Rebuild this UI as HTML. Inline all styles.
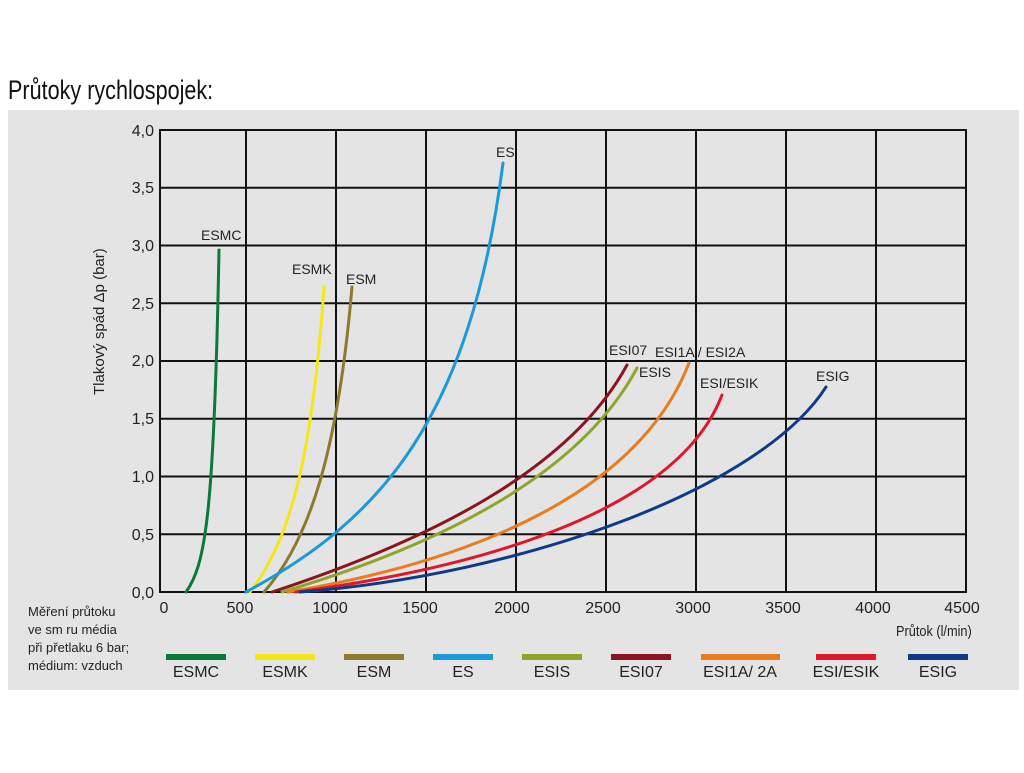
<!DOCTYPE html>
<html><head><meta charset="utf-8"><style>
body{margin:0;background:#fff;}
svg text{font-family:"Liberation Sans",sans-serif;}
</style></head><body>
<svg width="1024" height="768" viewBox="0 0 1024 768" xmlns="http://www.w3.org/2000/svg">
<rect width="1024" height="768" fill="#fff"/>
<text x="0" y="0" font-size="27" fill="#111" transform="translate(8,99) scale(0.8,1)">Průtoky rychlospojek:</text>
<rect x="8" y="110" width="1011" height="580" fill="#e4e4e4"/>
<g stroke="#111" stroke-width="2" fill="none">
<rect x="160" y="130" width="806" height="462"/>
<path d="M246,130V592M336,130V592M426,130V592M516,130V592M606,130V592M696,130V592M786,130V592M876,130V592"/>
<path d="M160,187.75H966M160,245.5H966M160,303.25H966M160,361H966M160,418.75H966M160,476.5H966M160,534.25H966"/>
</g>
<g font-size="16" fill="#222" text-anchor="end">
<text x="154" y="136">4,0</text><text x="154" y="193">3,5</text><text x="154" y="251">3,0</text>
<text x="154" y="309">2,5</text><text x="154" y="366">2,0</text><text x="154" y="424">1,5</text>
<text x="154" y="482">1,0</text><text x="154" y="540">0,5</text><text x="154" y="598">0,0</text>
</g>
<g font-size="16" fill="#222" text-anchor="middle">
<text x="164" y="613">0</text><text x="240" y="613">500</text><text x="330" y="613">1000</text>
<text x="420" y="613">1500</text><text x="512" y="613">2000</text><text x="603" y="613">2500</text>
<text x="693" y="613">3000</text><text x="783" y="613">3500</text><text x="873" y="613">4000</text><text x="962" y="613">4500</text>
</g>
<text x="0" y="0" font-size="15" fill="#222" transform="translate(896,636) scale(0.85,1)">Průtok (l/min)</text>
<text transform="translate(104,395) rotate(-90)" font-size="15" fill="#222">Tlakový spád Δp (bar)</text>
<g fill="none" stroke-width="3" stroke-linecap="round">
<path d="M186,592 C205,565 214,520 219,250" stroke="#0a7a3a"/>
<path d="M250,592 C290,540 312,460 324,287" stroke="#f5e617"/>
<path d="M264,592 C310,540 338,450 352,287" stroke="#8e7a2c"/>
<path d="M246,592 C380,520 470,420 503,163" stroke="#1a9ad8"/>
<path d="M272,592 C430,540 570,470 627,365" stroke="#8a1420"/>
<path d="M282,592 C440,545 580,475 637,368" stroke="#8fa52a"/>
<path d="M288,592 C480,560 640,490 689,363" stroke="#e97c1e"/>
<path d="M296,592 C500,565 680,505 722,395" stroke="#e0162a"/>
<path d="M300,592 C520,575 760,490 826,387" stroke="#0f3a88"/>
</g>
<g font-size="14" fill="#222">
<text x="201" y="240">ESMC</text><text x="292" y="274">ESMK</text><text x="346" y="284">ESM</text>
<text x="496" y="157">ES</text><text x="609" y="355">ESI07</text><text x="639" y="377">ESIS</text>
<text x="655" y="357">ESI1A / ESI2A</text><text x="700" y="388">ESI/ESIK</text><text x="816" y="381">ESIG</text>
</g>
<g font-size="13" fill="#222">
<text x="28" y="616">Měření průtoku</text><text x="28" y="634">ve sm ru média</text>
<text x="28" y="652">při přetlaku 6 bar;</text><text x="28" y="670">médium: vzduch</text>
</g>
<g>
<rect x="166" y="654" width="60" height="6" fill="#0a7a3a"/>
<rect x="255" y="654" width="60" height="6" fill="#f5e617"/>
<rect x="344" y="654" width="60" height="6" fill="#8e7a2c"/>
<rect x="433" y="654" width="60" height="6" fill="#1a9ad8"/>
<rect x="522" y="654" width="60" height="6" fill="#8fa52a"/>
<rect x="611" y="654" width="60" height="6" fill="#8a1420"/>
<rect x="701" y="654" width="79" height="6" fill="#e97c1e"/>
<rect x="816" y="654" width="60" height="6" fill="#e0162a"/>
<rect x="908" y="654" width="60" height="6" fill="#0f3a88"/>
</g>
<g font-size="16" fill="#222" text-anchor="middle">
<text x="196" y="677">ESMC</text><text x="285" y="677">ESMK</text><text x="374" y="677">ESM</text>
<text x="463" y="677">ES</text><text x="552" y="677">ESIS</text><text x="641" y="677">ESI07</text>
<text x="740" y="677">ESI1A/ 2A</text><text x="846" y="677">ESI/ESIK</text><text x="938" y="677">ESIG</text>
</g>
</svg>
</body></html>
